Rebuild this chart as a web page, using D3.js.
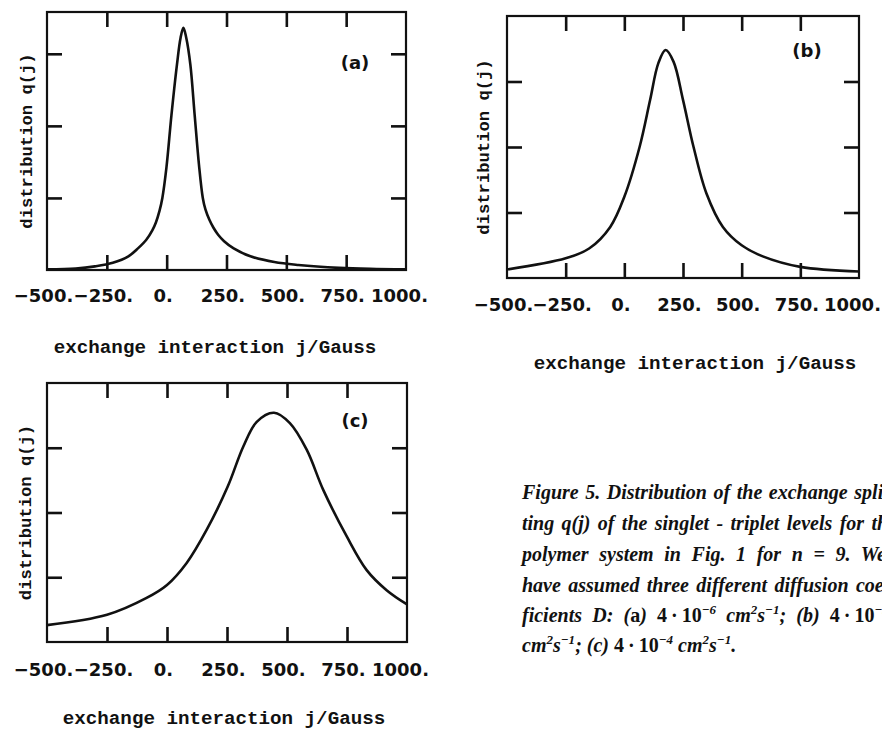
<!DOCTYPE html>
<html>
<head>
<meta charset="utf-8">
<script src="https://cdn.jsdelivr.net/npm/d3@7"></script>
<style>
  body { margin: 0; background: #fff; }
  svg { display: block; background: #fff; }
  .frame { fill: none; stroke: #111; stroke-width: 2.2; }
  .ticks line { stroke: #111; stroke-width: 2.6; }
  .ticks path.domain { display: none; }
  .ticklabels path.domain, .ticklabels line { display: none; }
  .ticklabels text { font-family: "DejaVu Sans", sans-serif; font-weight: bold; font-size: 18px; fill: #111; }
  .curve { fill: none; stroke: #111; stroke-width: 2.6; stroke-linejoin: round; }
  .title { font-family: "Liberation Mono", monospace; font-weight: bold; fill: #111; }
  .tag { font-family: "DejaVu Sans", sans-serif; font-weight: bold; font-size: 18px; fill: #111; }
  .caption { font-family: "Liberation Serif", serif; font-style: italic; font-weight: bold; font-size: 20px; fill: #111; }
</style>
</head>
<body>
<script>
// x axis: exchange interaction j / Gauss
var xTickValues = [-500, -250, 0, 250, 500, 750, 1000];
var xTickLabels = ['\u2212500.', '\u2212250.', '0.', '250.', '500.', '750.', '1000.'];
var xInnerTicks = [-250, 0, 250, 500, 750];
var yTickValues = [1, 2, 3];

// (a) D = 4e-6
var jA = [-500, -380, -300, -225, -160, -120, -85, -60, -45, -30, -18, -1, 20, 43, 58, 70, 82, 99, 117, 135, 151, 162, 178, 195, 215, 240, 280, 350, 450, 550, 720, 850, 1000];
var qA = [0.008, 0.02, 0.05, 0.10, 0.19, 0.30, 0.42, 0.55, 0.66, 0.82, 1.0, 1.42, 2.15, 2.85, 3.22, 3.36, 3.22, 2.85, 2.15, 1.46, 1.0, 0.84, 0.70, 0.59, 0.49, 0.40, 0.30, 0.19, 0.11, 0.07, 0.03, 0.015, 0.008];

// (b) D = 4e-5
var jB = [-500, -250, -150, -60, 0, 65, 110, 145, 176, 210, 250, 295, 350, 420, 500, 590, 750, 1000];
var qB = [0.13, 0.30, 0.45, 0.78, 1.24, 2.0, 2.72, 3.28, 3.48, 3.30, 2.72, 2.0, 1.29, 0.78, 0.50, 0.33, 0.17, 0.10];

// (c) D = 4e-4
var jC = [-500, -250, -85, 0, 82, 165, 253, 318, 374, 446, 512, 582, 651, 749, 832, 915, 1000];
var qC = [0.26, 0.42, 0.68, 0.88, 1.22, 1.73, 2.40, 3.02, 3.40, 3.54, 3.38, 2.97, 2.35, 1.63, 1.11, 0.80, 0.58];

var panelTags = ['(a)', '(b)', '(c)'];
var xTitle = 'exchange interaction j/Gauss';
var yTitle = 'distribution q(j)';

var svg = d3.select('body').append('svg')
  .attr('width', 882)
  .attr('height', 732);

var panels = [
  { j: jA, q: qA, tag: panelTags[0], x0: 47, x1: 406, y0: 12, y1: 270, yMax: 3.58,
    labelPad: 19, titleX: 215, titleY: 353, yTitleX: 27, tagX: 355, tagY: 69 },
  { j: jB, q: qB, tag: panelTags[1], x0: 507, x1: 859, y0: 16, y1: 278, yMax: 4,
    labelPad: 20, titleX: 695, titleY: 369, yTitleX: 484, tagX: 807, tagY: 57 },
  { j: jC, q: qC, tag: panelTags[2], x0: 47, x1: 407, y0: 383, y1: 642, yMax: 4,
    labelPad: 21, titleX: 224, titleY: 724, yTitleX: 26, tagX: 355, tagY: 427 }
];

panels.forEach(drawPanel);

function drawPanel(p) {
  var g = svg.append('g');

  var x = d3.scaleLinear().domain([-500, 1000]).range([p.x0, p.x1]);
  var y = d3.scaleLinear().domain([0, p.yMax]).range([p.y1, p.y0]);

  // inward ticks on all four sides
  g.append('g').attr('class', 'ticks')
    .attr('transform', 'translate(0,' + p.y1 + ')')
    .call(d3.axisBottom(x).tickValues(xInnerTicks).tickSizeInner(-15).tickSizeOuter(0).tickFormat(''));
  g.append('g').attr('class', 'ticks')
    .attr('transform', 'translate(0,' + p.y0 + ')')
    .call(d3.axisTop(x).tickValues(xInnerTicks).tickSizeInner(-15).tickSizeOuter(0).tickFormat(''));
  g.append('g').attr('class', 'ticks')
    .attr('transform', 'translate(' + p.x0 + ',0)')
    .call(d3.axisLeft(y).tickValues(yTickValues).tickSizeInner(-15).tickSizeOuter(0).tickFormat(''));
  g.append('g').attr('class', 'ticks')
    .attr('transform', 'translate(' + p.x1 + ',0)')
    .call(d3.axisRight(y).tickValues(yTickValues).tickSizeInner(-15).tickSizeOuter(0).tickFormat(''));

  // tick labels
  g.append('g').attr('class', 'ticklabels')
    .attr('transform', 'translate(0,' + p.y1 + ')')
    .call(d3.axisBottom(x).tickValues(xTickValues).tickSize(0).tickPadding(p.labelPad)
      .tickFormat(function(d, i) { return xTickLabels[i]; }))
    .selectAll('text').attr('dx', function(d) { return d === 1000 ? -7 : -4; });

  g.append('rect').attr('class', 'frame')
    .attr('x', p.x0).attr('y', p.y0)
    .attr('width', p.x1 - p.x0).attr('height', p.y1 - p.y0);

  var line = d3.line()
    .x(function(d) { return x(d[0]); })
    .y(function(d) { return y(d[1]); })
    .curve(d3.curveCatmullRom.alpha(0.5));

  g.append('path').attr('class', 'curve')
    .attr('d', line(d3.zip(p.j, p.q)));

  g.append('text').attr('class', 'title')
    .attr('x', p.titleX).attr('y', p.titleY)
    .attr('text-anchor', 'middle')
    .style('font-size', '19.2px')
    .text(xTitle);

  g.append('text').attr('class', 'title')
    .attr('transform', 'translate(' + p.yTitleX + ',' + ((p.y0 + p.y1) / 2) + ') rotate(-90)')
    .attr('text-anchor', 'middle')
    .attr('dominant-baseline', 'middle')
    .style('font-size', '17.2px')
    .text(yTitle);

  g.append('text').attr('class', 'tag')
    .attr('x', p.tagX).attr('y', p.tagY)
    .attr('text-anchor', 'middle')
    .text(p.tag);
}

// caption, justified lines running past the right edge as in the scan
var captionX = 522, captionRight = 897;
var captionY = [499, 530, 561, 592, 622, 652];
var dot = '4\u2009\u00b7\u200910';
var captionLines = [
  [['Figure 5.  Distribution of the exchange split-']],
  [['ting q(j) of the singlet - triplet levels for the']],
  [['polymer system in Fig.  1 for n = 9.  We']],
  [['have assumed three different diffusion coef-']],
  [['ficients D: ('], ['a', 'n'], [') '], [dot, 'n'], ['\u22126', 'sup'], [' cm'], ['2', 'sup'], ['s'], ['\u22121', 'sup'],
   ['; (b) '], [dot, 'n'], ['\u22125', 'sup'], [' cm'], ['2', 'sup']],
  [['cm'], ['2', 'sup'], ['s'], ['\u22121', 'sup'], ['; (c) '], [dot, 'n'], ['\u22124', 'sup'], [' cm'], ['2', 'sup'], ['s'], ['\u22121', 'sup'], ['.']]
];

captionLines.forEach(function(parts, i) {
  var t = svg.append('text').attr('class', 'caption')
    .attr('x', captionX).attr('y', captionY[i]);
  var up = false;
  parts.forEach(function(part) {
    var s = t.append('tspan').text(part[0]);
    if (part[1] === 'sup') {
      s.style('font-size', '13px').attr('dy', up ? 0 : -8);
      up = true;
    } else {
      if (up) { s.attr('dy', 8); up = false; }
      if (part[1] === 'n') s.style('font-style', 'normal');
    }
  });
  if (i < captionLines.length - 1) {
    var w = t.node().getComputedTextLength();
    var text = parts.map(function(p) { return p[0]; }).join('');
    var spaces = (text.match(/ /g) || []).length;
    var target = i === 4 ? 930 : captionRight;
    if (spaces > 0) t.attr('word-spacing', Math.max(0, (target - captionX - w) / spaces));
  }
});
</script>
</body>
</html>
